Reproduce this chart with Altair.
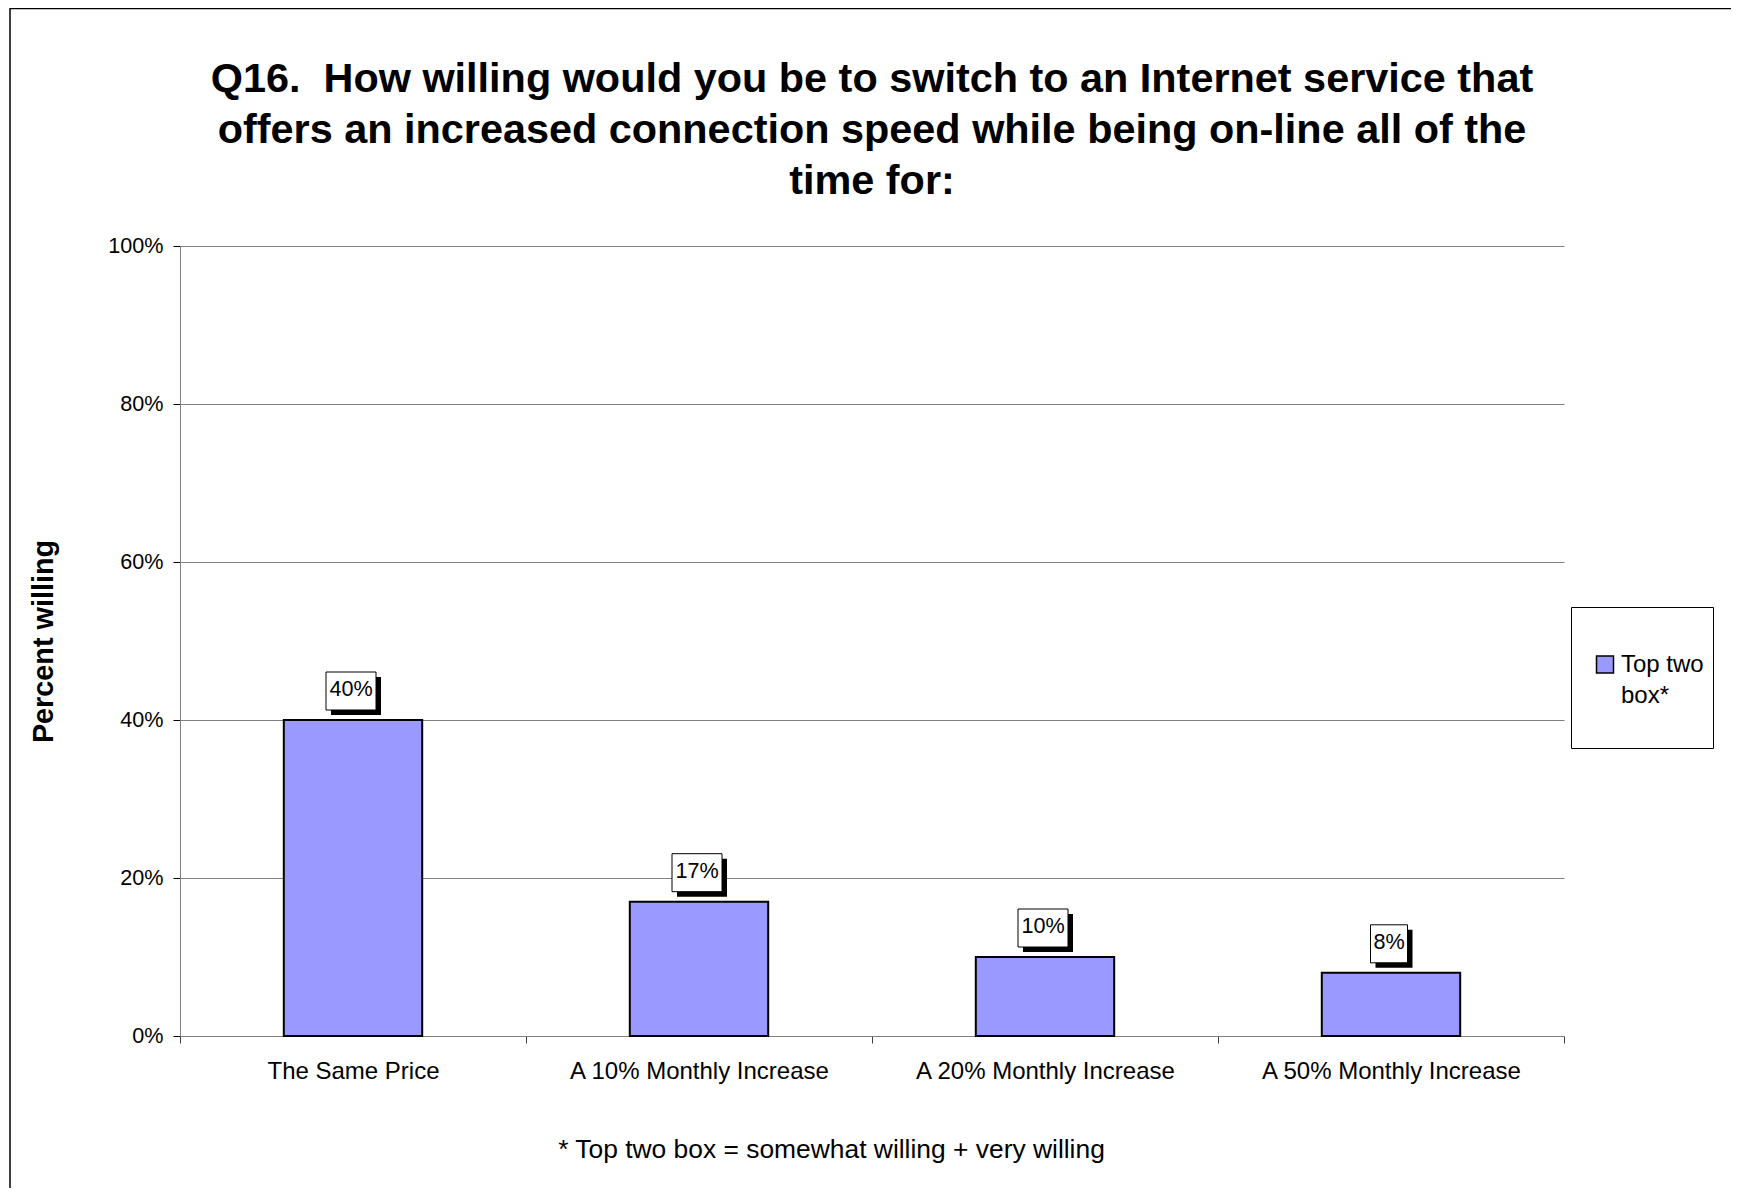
import altair as alt
import pandas as pd

# ---- data ----
categories = ["The Same Price", "A 10% Monthly Increase", "A 20% Monthly Increase", "A 50% Monthly Increase"]
values = [0.40, 0.17, 0.10, 0.08]
labels = ["40%", "17%", "10%", "8%"]
series_name = "Top two box*"
y_ticks = [0, 0.2, 0.4, 0.6, 0.8, 1.0]
title_lines = [
    "Q16.\u00a0 How willing would you be to switch to an Internet service that",
    "offers an increased connection speed while being on-line all of the",
    "time for:",
]
y_title = "Percent willing"
footnote = "* Top two box = somewhat willing + very willing"

df = pd.DataFrame({"category": categories, "value": values, "label": labels,
                   "series": [series_name] * len(categories)})

FONT = "Liberation Sans"
W, H = 1384, 790
BAR_FILL = "#9999FF"

x_enc = alt.X(
    "category:N", sort=categories,
    scale=alt.Scale(paddingInner=0, paddingOuter=0),
    axis=alt.Axis(
        title=footnote, titleFont=FONT, titleFontSize=26.4, titleFontWeight="normal",
        titleColor="black", titleX=651, titleY=121, titleAlign="center",
        titleBaseline="alphabetic",
        labelFont=FONT, labelFontSize=24, labelColor="black", labelAngle=0,
        labelPadding=16, labelLimit=400, tickSize=7, tickColor="#404040",
        tickBand="extent", domainColor="#808080", grid=False,
    ),
)
y_enc = alt.Y(
    "value:Q",
    scale=alt.Scale(domain=[0, 1], nice=False),
    axis=alt.Axis(
        title=y_title, titleFont=FONT, titleFontSize=28.8, titleFontWeight="bold",
        titleColor="black", titleX=-137, titleY=H / 2, titleAngle=270,
        titleAlign="center", titleBaseline="middle",
        values=y_ticks, format=".0%",
        labelFont=FONT, labelFontSize=21.6, labelColor="black", labelPadding=10,
        tickSize=7, tickColor="black", domainColor="#808080",
        gridColor="#808080", gridWidth=1,
    ),
)

bars = alt.Chart(df).mark_bar(
    width={"band": 0.4}, stroke="black", strokeWidth=2
).encode(
    x=x_enc, y=y_enc,
    color=alt.Color(
        "series:N",
        scale=alt.Scale(domain=[series_name], range=[BAR_FILL]),
        legend=alt.Legend(
            title=None, orient="none", legendX=1391, legendY=361,
            padding=9, strokeColor="black", fillColor="white",
            symbolType="square", symbolSize=289, symbolStrokeColor="black",
            symbolStrokeWidth=1.5, symbolOpacity=1, symbolOffset=13,
            labelFont=FONT, labelFontSize=24, labelColor="black", labelOffset=4,
            clipHeight=97,
            labelExpr="['Top two', 'box*', '']",
        ),
    ),
)


def label_box(nchars, width, fill, dx, dy, stroke_width):
    return alt.Chart(df).transform_filter(
        f"length(datum.label) == {nchars}"
    ).mark_bar(
        width=width, fill=fill, stroke="black", strokeWidth=stroke_width,
        xOffset=dx, yOffset=-48 + dy, y2Offset=-10 + dy,
    ).encode(x=x_enc, y=y_enc, y2=alt.Y2("value:Q"))


shadows = [label_box(3, 50, "black", 3, 5, 0), label_box(2, 37, "black", 3, 5, 0)]
boxes = [label_box(3, 50, "white", -2, 0, 1), label_box(2, 37, "white", -2, 0, 1)]

texts = alt.Chart(df).mark_text(
    font=FONT, fontSize=21.6, color="black", baseline="middle", dx=-2, dy=-30
).encode(x=x_enc, y=y_enc, text="label:N")

frame = alt.Chart(pd.DataFrame({"f": [0]})).mark_rect(
    fillOpacity=0, stroke="black", strokeWidth=1.5
).encode(
    x=alt.value(-170), x2=alt.value(W + 300),
    y=alt.value(-237.5), y2=alt.value(H + 300),
)

chart = alt.layer(frame, bars, *shadows, *boxes, texts).properties(
    width=W, height=H,
    title=alt.Title(
        text=title_lines, font=FONT, fontSize=41.4, fontWeight="bold", color="black",
        anchor="middle", frame="group", offset=0, dy=195, lineHeight=51,
    ),
    autosize=alt.AutoSizeParams(type="none"),
    padding={"left": 172, "top": 238, "right": 167, "bottom": 152},
    background="white",
).configure(
    style={"guide-label": {"lineHeight": 31}}
).configure_view(strokeWidth=0)

chart.save("out.html", embed_options={"renderer": "svg", "actions": False})
